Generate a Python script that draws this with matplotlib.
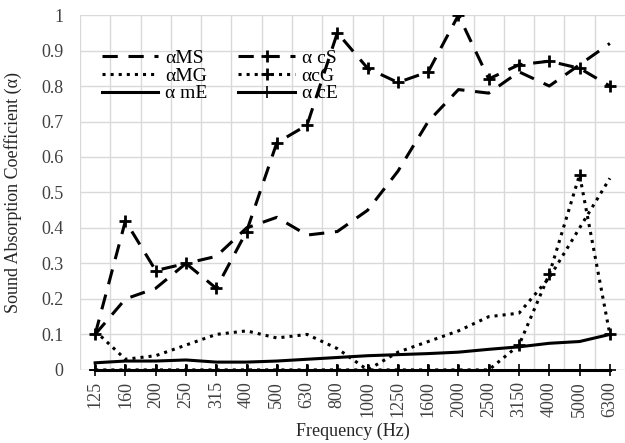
import matplotlib.pyplot as plt
import numpy as np

freqs = ["125", "160", "200", "250", "315", "400", "500", "630", "800", "1000",
         "1250", "1600", "2000", "2500", "3150", "4000", "5000", "6300"]

a_ms = [0.10, 0.20, 0.23, 0.30, 0.32, 0.40, 0.43, 0.38, 0.39, 0.45,
        0.56, 0.70, 0.79, 0.78, 0.84, 0.80, 0.86, 0.92]
a_cs = [0.10, 0.42, 0.28, 0.30, 0.23, 0.39, 0.64, 0.69, 0.95, 0.85,
        0.81, 0.84, 1.00, 0.82, 0.86, 0.87, 0.85, 0.80]
a_mg = [0.11, 0.03, 0.04, 0.07, 0.10, 0.11, 0.09, 0.10, 0.06, 0.00,
        0.05, 0.08, 0.11, 0.15, 0.16, 0.26, 0.40, 0.54]
a_cg = [0.0, 0.0, 0.0, 0.0, 0.0, 0.0, 0.0, 0.0, 0.0, 0.0,
        0.0, 0.0, 0.0, 0.0, 0.07, 0.27, 0.55, 0.10]
a_me = [0.020, 0.025, 0.025, 0.028, 0.022, 0.022, 0.025, 0.030, 0.035, 0.040,
        0.043, 0.046, 0.050, 0.058, 0.065, 0.075, 0.080, 0.100]
a_ce = [0.0] * 18

plt.rcParams['font.family'] = ['Liberation Serif', 'DejaVu Serif']

fig = plt.figure(figsize=(6.25, 4.43), dpi=100)
ax = fig.add_axes([0.128, 0.165, 0.872, 0.801])

x = np.arange(len(freqs))
dash = (0, (5, 3.5))
lw = 2.2
ax.plot(x, a_ms, color='black', lw=lw, ls=dash, label='αMS', zorder=3)
ax.plot(x, a_mg, color='black', lw=lw, ls=':', label='αMG', zorder=3)
ax.plot(x, a_me, color='black', lw=lw, ls='-', label='α mE', zorder=3)
ax.plot(x, a_cs, color='black', lw=lw, ls=dash, marker='+', ms=8, mew=2,
        label='α cS', zorder=3)
ax.plot(x, a_cg, color='black', lw=lw, ls=':', marker='+', ms=8, mew=2,
        label='αcG', zorder=3)
ax.plot(x, a_ce, color='black', lw=lw, ls='-', marker='+', ms=9, mew=1.2,
        label='α cE', zorder=3, clip_on=False)

ax.set_xlim(-0.5, 17.5)
ax.set_ylim(0, 1)
ax.set_xticks(x)
ax.set_xticklabels(freqs, rotation=90, fontsize=13)
ax.set_xticks(x[:-1] + 0.5, minor=True)
yt = np.arange(0, 1.01, 0.1).round(1)
ax.set_yticks(yt)
ax.set_yticklabels([f"{v:g}" for v in yt], fontsize=13)
ax.tick_params(axis='both', which='both', length=0, colors='#404040')
ax.tick_params(axis='x', pad=8)
ax.tick_params(axis='y', pad=12)
ax.grid(True, which='minor', axis='x', color='#d9d9d9', lw=1)
ax.grid(True, which='major', axis='y', color='#d9d9d9', lw=1)
ax.axvline(-0.5, color='#d9d9d9', lw=1, zorder=0)
for s in ax.spines.values():
    s.set_visible(False)
ax.axhline(0, color='#d9d9d9', lw=1, zorder=1)

ax.set_xlabel('Frequency (Hz)', fontsize=13, color='#262626', labelpad=4)
ax.set_ylabel('Sound Absorption Coefficient (α)', fontsize=13, color='#262626',
              labelpad=14)

ax.legend(ncol=2, loc='upper left', bbox_to_anchor=(0.022, 0.93), frameon=False,
          fontsize=14, handlelength=2.9, handletextpad=0.35, columnspacing=1.6,
          labelspacing=0.0, borderpad=0)

fig.savefig('out.png', dpi=100)
